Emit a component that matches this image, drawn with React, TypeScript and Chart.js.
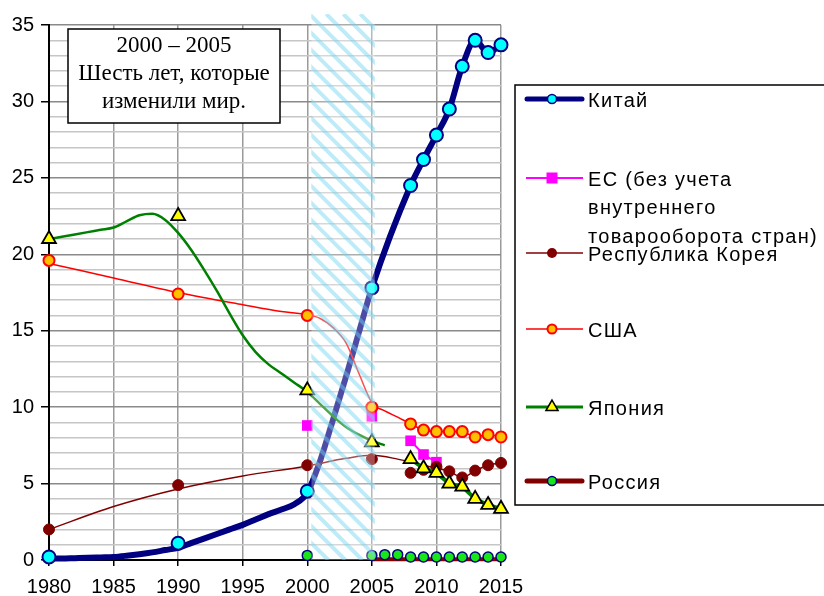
import React, { useEffect, useRef } from "react";
import { Chart, registerables } from "chart.js";

Chart.register(...registerables);

// ---------- data ----------
const markerYears = [1980, 1990, 2000, 2005, 2008, 2009, 2010, 2011, 2012, 2013, 2014, 2015];
const chinaMarkers = [0.2, 1.1, 4.5, 17.8, 24.5, 26.2, 27.8, 29.5, 32.3, 34.0, 33.2, 33.7];
const euMarkers = [null, null, 8.8, 9.4, 7.8, 6.9, 6.4, null, null, null, null, null];
const koreaMarkers = [2.0, 4.9, 6.2, 6.6, 5.7, 5.9, 6.1, 5.8, 5.4, 5.85, 6.2, 6.35];
const usaMarkers = [19.6, 17.4, 16.0, 10.0, 8.9, 8.5, 8.4, 8.4, 8.4, 8.05, 8.2, 8.05];
const japanMarkers = [21.0, 22.5, 11.1, 7.7, 6.6, 6.0, 5.7, 5.0, 4.8, 4.0, 3.6, 3.35];

const russiaYears = [2000, 2005, 2006, 2007, 2008, 2009, 2010, 2011, 2012, 2013, 2014, 2015];
const russiaMarkers = [0.3, 0.3, 0.35, 0.35, 0.2, 0.2, 0.2, 0.2, 0.2, 0.2, 0.2, 0.2];
const russiaLineYears = [2005, 2008, 2010, 2015];
const russiaLineValues = [0.05, 0.05, 0.05, 0.05];

const chinaLineYears = [1980, 1981, 1982, 1983, 1984, 1985, 1986, 1987, 1988, 1989, 1990, 1991, 1992, 1993, 1994, 1995, 1996, 1997, 1998, 1999, 2000, 2001, 2002, 2003, 2004, 2005, 2008, 2009, 2010, 2011, 2012, 2013, 2014, 2015];
const chinaLineValues = [0.1, 0.1, 0.12, 0.14, 0.17, 0.2, 0.28, 0.38, 0.5, 0.65, 0.8, 1.1, 1.4, 1.7, 2.0, 2.3, 2.65, 3.0, 3.3, 3.65, 4.4, 6.5, 9.2, 12.0, 14.9, 17.8, 24.5, 26.2, 27.8, 29.5, 32.3, 34.0, 33.2, 33.7];

const japanLineYears = [1980, 1981, 1982, 1983, 1984, 1985, 1986, 1987, 1988, 1989, 1990, 1991, 1992, 1993, 1994, 1995, 1996, 1997, 1998, 1999, 2000, 2001, 2002, 2003, 2004, 2005, 2006];
const japanLineValues = [21.0, 21.15, 21.3, 21.45, 21.6, 21.75, 22.15, 22.55, 22.65, 22.25, 21.4, 20.3, 19.0, 17.6, 16.1, 14.7, 13.6, 12.8, 12.2, 11.6, 11.0, 10.2, 9.4, 8.7, 8.2, 7.8, 7.5];

const usaLineYears = [1980, 1985, 1990, 1995, 1998, 2000, 2001, 2002, 2003, 2004, 2005, 2006, 2007, 2008, 2009, 2010, 2011, 2012, 2013, 2014, 2015];
const usaLineValues = [19.4, 18.45, 17.5, 16.7, 16.25, 16.05, 15.8, 15.2, 14.2, 12.2, 10.3, 9.75, 9.35, 8.9, 8.5, 8.4, 8.4, 8.4, 8.05, 8.2, 8.05];

const koreaLineYears = [1980, 1985, 1990, 1995, 2000, 2003, 2005, 2007, 2009, 2010, 2011, 2012, 2013, 2014, 2015];
const koreaLineValues = [2.0, 3.5, 4.65, 5.5, 6.15, 6.65, 6.85, 6.6, 6.2, 6.0, 5.8, 5.4, 5.85, 6.2, 6.35];

const bandYears = [2000, 2005];

const yearTicks = [1980, 1985, 1990, 1995, 2000, 2005, 2010, 2015];
const noteLines = ["2000 – 2005", "Шесть лет, которые", "изменили мир."];
const legendLabels = [
  ["Китай"],
  ["ЕС (без учета", "внутреннего", "товарооборота стран)"],
  ["Республика Корея"],
  ["США"],
  ["Япония"],
  ["Россия"],
];

// ---------- colors ----------
const NAVY = "#000080";
const CYAN = "#00FFFF";
const MAGENTA = "#FF00FF";
const DARKRED = "#800000";
const RED = "#FF0000";
const ORANGE = "#FFC000";
const GREEN = "#008000";
const YELLOW = "#FFFF00";
const LIME = "#19E619";

const SANS = '"Liberation Sans", Arial, sans-serif';
const SERIF = '"Liberation Serif", "Times New Roman", serif';

const pts = (xs: number[], ys: (number | null)[]) => ys.map((y, i) => ({ x: xs[i], y }));

function drawBand(chart: any) {
  const { ctx, chartArea, scales } = chart;
  const xs = scales.x;
  const x1 = xs.getPixelForValue(bandYears[0]) + 4;
  const x2 = xs.getPixelForValue(bandYears[1]) + 3;
  const top = chartArea.top - 11;
  const bottom = chartArea.bottom;
  const h = bottom - top;
  ctx.save();
  ctx.beginPath();
  ctx.rect(x1, top, x2 - x1, h);
  ctx.clip();
  ctx.fillStyle = "rgba(255,255,255,0.3)";
  ctx.fillRect(x1, top, x2 - x1, h);
  ctx.strokeStyle = "rgba(110,210,240,0.45)";
  ctx.lineWidth = 4;
  ctx.beginPath();
  for (let k = -h; k < x2 - x1 + 20; k += 17) {
    ctx.moveTo(x1 + k, top);
    ctx.lineTo(x1 + k + h, bottom);
  }
  ctx.stroke();
  ctx.restore();
}

function marker(ctx: CanvasRenderingContext2D, kind: string, x: number, y: number) {
  ctx.save();
  if (kind === "china") {
    ctx.beginPath(); ctx.arc(x, y, 4.5, 0, Math.PI * 2);
    ctx.fillStyle = CYAN; ctx.fill(); ctx.lineWidth = 1.5; ctx.strokeStyle = NAVY; ctx.stroke();
  } else if (kind === "eu") {
    ctx.fillStyle = MAGENTA; ctx.fillRect(x - 5.5, y - 5.5, 11, 11);
  } else if (kind === "korea") {
    ctx.beginPath(); ctx.arc(x, y, 5, 0, Math.PI * 2);
    ctx.fillStyle = DARKRED; ctx.fill();
  } else if (kind === "usa") {
    ctx.beginPath(); ctx.arc(x, y, 4.5, 0, Math.PI * 2);
    ctx.fillStyle = ORANGE; ctx.fill(); ctx.lineWidth = 2; ctx.strokeStyle = RED; ctx.stroke();
  } else if (kind === "japan") {
    const r = 7;
    ctx.beginPath();
    ctx.moveTo(x, y - r);
    ctx.lineTo(x + r * 0.866, y + r * 0.5);
    ctx.lineTo(x - r * 0.866, y + r * 0.5);
    ctx.closePath();
    ctx.fillStyle = YELLOW; ctx.fill(); ctx.lineWidth = 1.5; ctx.strokeStyle = "#000"; ctx.stroke();
  } else if (kind === "russia") {
    ctx.beginPath(); ctx.arc(x, y, 4.5, 0, Math.PI * 2);
    ctx.fillStyle = LIME; ctx.fill(); ctx.lineWidth = 1.5; ctx.strokeStyle = NAVY; ctx.stroke();
  }
  ctx.restore();
}

function drawOverlays(chart: any) {
  const { ctx } = chart;
  ctx.save();
  // note box
  ctx.fillStyle = "#fff";
  ctx.fillRect(68, 29, 212, 94);
  ctx.strokeStyle = "#000";
  ctx.lineWidth = 1.5;
  ctx.strokeRect(68, 29, 212, 94);
  ctx.fillStyle = "#000";
  ctx.font = `23px ${SERIF}`;
  ctx.textAlign = "center";
  ctx.textBaseline = "middle";
  noteLines.forEach((t, i) => ctx.fillText(t, 174, 46 + i * 28));

  // legend box
  ctx.fillStyle = "#fff";
  ctx.fillRect(515, 85, 320, 420);
  ctx.strokeStyle = "#000";
  ctx.lineWidth = 1.5;
  ctx.strokeRect(515, 85, 320, 420);

  const rows = [99, 178, 253, 329, 407, 481];
  const styles = [
    { kind: "china", color: NAVY, w: 5 },
    { kind: "eu", color: MAGENTA, w: 2 },
    { kind: "korea", color: DARKRED, w: 1.5 },
    { kind: "usa", color: RED, w: 1.5 },
    { kind: "japan", color: GREEN, w: 3 },
    { kind: "russia", color: DARKRED, w: 5 },
  ];
  ctx.font = `20px ${SANS}`;
  ctx.textAlign = "left";
  ctx.textBaseline = "middle";
  try { (ctx as any).letterSpacing = "1.3px"; } catch (e) {}
  styles.forEach((s, i) => {
    const y = rows[i];
    ctx.save();
    ctx.strokeStyle = s.color;
    ctx.lineWidth = s.w;
    ctx.lineCap = s.w > 3 ? "round" : "butt";
    ctx.beginPath();
    ctx.moveTo(s.w > 3 ? 527 : 526, y);
    ctx.lineTo(s.w > 3 ? 582 : 583, y);
    ctx.stroke();
    ctx.restore();
    marker(ctx, s.kind, 552, y);
    ctx.fillStyle = "#000";
    legendLabels[i].forEach((t, j) => ctx.fillText(t, 588, y + 2 + j * 28.5));
  });
  try { (ctx as any).letterSpacing = "0px"; } catch (e) {}
  ctx.restore();
}

export default function App() {
  const ref = useRef<HTMLCanvasElement>(null);
  useEffect(() => {
    document.body.style.margin = "0";
    const canvas = ref.current!;
    const hideBefore2008 = (color: string) => (c: any) => (c.p0.parsed.x >= 2008 ? color : "rgba(0,0,0,0)");
    const chart = new Chart(canvas, {
      type: "line",
      data: {
        datasets: [
          {
            label: "Китай (линия)", data: pts(chinaLineYears, chinaLineValues), borderColor: NAVY, borderWidth: 6,
            pointRadius: 0, cubicInterpolationMode: "monotone", borderCapStyle: "round", borderJoinStyle: "round", order: 60,
          },
          {
            label: "Китай", data: pts(markerYears, chinaMarkers), showLine: false, pointRadius: 6.5,
            pointBackgroundColor: CYAN, pointBorderColor: NAVY, pointBorderWidth: 2, order: 55,
          },
          {
            label: "ЕС", data: pts(markerYears, euMarkers), borderColor: MAGENTA, borderWidth: 2,
            segment: { borderColor: hideBefore2008(MAGENTA) }, pointStyle: "rect", pointRadius: 7.5,
            pointBackgroundColor: MAGENTA, pointBorderColor: MAGENTA, pointBorderWidth: 0, order: 50,
          },
          {
            label: "Корея (линия)", data: pts(koreaLineYears, koreaLineValues), borderColor: DARKRED, borderWidth: 1.5,
            pointRadius: 0, cubicInterpolationMode: "monotone", order: 45,
          },
          {
            label: "Республика Корея", data: pts(markerYears, koreaMarkers), showLine: false, pointRadius: 5.5,
            pointBackgroundColor: DARKRED, pointBorderColor: DARKRED, pointBorderWidth: 1, order: 44,
          },
          {
            label: "США (линия)", data: pts(usaLineYears, usaLineValues), borderColor: RED, borderWidth: 1.5,
            pointRadius: 0, cubicInterpolationMode: "monotone", order: 35,
          },
          {
            label: "США", data: pts(markerYears, usaMarkers), showLine: false, pointRadius: 5.5,
            pointBackgroundColor: ORANGE, pointBorderColor: RED, pointBorderWidth: 2, order: 34,
          },
          {
            label: "Япония (линия)", data: pts(japanLineYears, japanLineValues), borderColor: GREEN, borderWidth: 2.5,
            pointRadius: 0, cubicInterpolationMode: "monotone", order: 25,
          },
          {
            label: "Япония", data: pts(markerYears, japanMarkers), borderColor: GREEN, borderWidth: 4,
            segment: { borderColor: hideBefore2008(GREEN) }, pointStyle: "triangle", pointRadius: 8,
            pointBackgroundColor: YELLOW, pointBorderColor: "#000", pointBorderWidth: 1.8, order: 24,
          },
          {
            label: "Россия (линия)", data: pts(russiaLineYears, russiaLineValues), borderColor: DARKRED, borderWidth: 4,
            pointRadius: 0, order: 15,
          },
          {
            label: "Россия", data: pts(russiaYears, russiaMarkers), showLine: false, pointRadius: 5,
            pointBackgroundColor: LIME, pointBorderColor: NAVY, pointBorderWidth: 1.5, order: 14,
          },
        ].map((d) => ({ ...d, clip: false })) as any,
      },
      options: {
        animation: false,
        responsive: false,
        maintainAspectRatio: false,
        layout: { padding: { top: 25, right: 323, left: 0, bottom: 0 } },
        plugins: { legend: { display: false }, tooltip: { enabled: false } },
        scales: {
          x: {
            type: "linear",
            min: 1980,
            max: 2015,
            afterBuildTicks: (s: any) => { s.ticks = yearTicks.map((v) => ({ value: v })); },
            afterFit: (s: any) => { s.height = 36; },
            ticks: {
              autoSkip: false, maxRotation: 0, padding: 9, color: "#000",
              font: { size: 20, family: SANS }, callback: (v: any) => String(v),
            },
            grid: { color: "#9a9a9a", lineWidth: 1.5, tickLength: 6, tickColor: "#000" },
            border: { color: "#000", width: 2 },
          },
          y: {
            min: 0,
            max: 35,
            afterFit: (s: any) => { s.width = 49; },
            ticks: {
              stepSize: 1, autoSkip: false, padding: 7, color: "#000",
              font: { size: 20, family: SANS },
              callback: (v: any) => (Number(v) % 5 === 0 ? String(v) : ""),
            },
            grid: {
              color: (c: any) => (c.tick && c.tick.value % 5 === 0 ? "#8a8a8a" : "#c6c6c6"),
              lineWidth: 1.5,
              tickLength: 8,
              tickColor: (c: any) => (c.tick && c.tick.value % 5 === 0 ? "#000" : "rgba(0,0,0,0)"),
            },
            border: { color: "#000", width: 2 },
          },
        },
      } as any,
      plugins: [
        { id: "band", afterDatasetsDraw: (c: any) => drawBand(c) },
        { id: "overlays", afterDraw: (c: any) => drawOverlays(c) },
      ],
    });
    return () => chart.destroy();
  }, []);
  return (
    <div style={{ position: "fixed", left: 0, top: 0, width: 824, height: 596, background: "#fff" }}>
      <canvas ref={ref} width={824} height={596} style={{ width: 824, height: 596, display: "block" }} />
    </div>
  );
}
